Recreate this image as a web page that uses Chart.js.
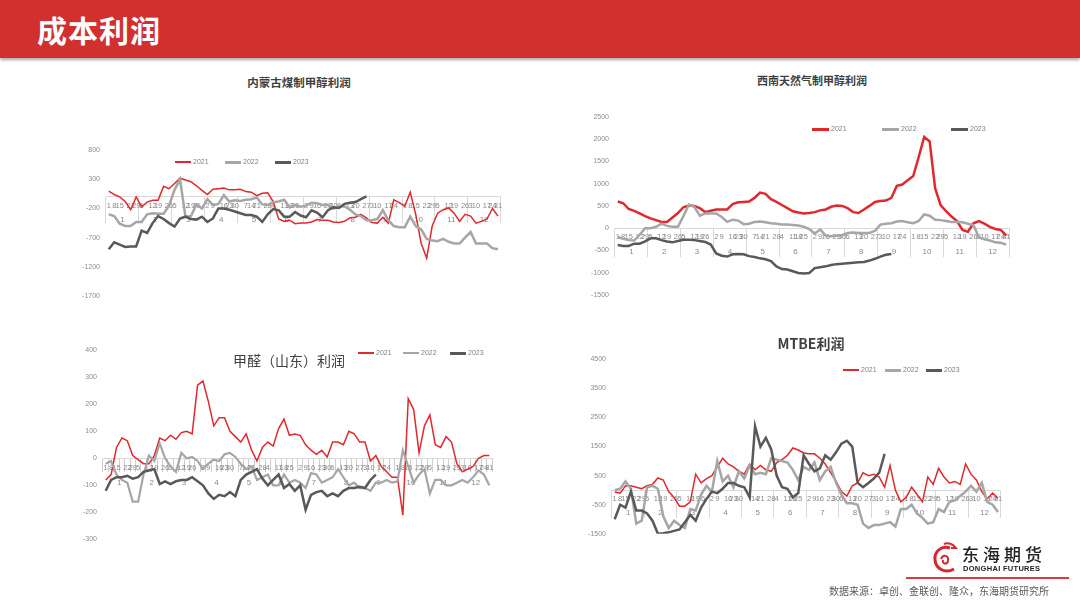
<!DOCTYPE html>
<html><head><meta charset="utf-8">
<script src="https://cdn.jsdelivr.net/npm/chart.js@4.4.0/dist/chart.umd.min.js"></script>
<style>
html,body{margin:0;padding:0;background:#fff;}
body{width:1080px;height:607px;overflow:hidden;position:relative;font-family:"Noto Sans CJK SC","Liberation Sans",sans-serif;}
#hdr{position:absolute;left:0;top:0;width:1080px;height:58px;background:#d22f2f;box-shadow:0 2px 3px rgba(0,0,0,0.35);}
#hdr span{position:absolute;left:37px;top:10px;font-size:30px;font-weight:700;color:#fff;line-height:38px;letter-spacing:1px;}
canvas{position:absolute;}
.ttl{position:absolute;color:#404040;white-space:nowrap;transform:translate(-50%,-50%);line-height:1;z-index:5;}
.lg{position:absolute;font-family:"Liberation Sans",sans-serif;font-size:7px;color:#7f7f7f;white-space:nowrap;line-height:1;z-index:5;}
.lgl{position:absolute;z-index:5;}
#src{position:absolute;left:829px;top:584px;font-size:10px;color:#595959;white-space:nowrap;line-height:14px;}
#rl{position:absolute;left:906px;top:577px;width:163px;height:1.5px;background:#e0393c;}
#lt1{position:absolute;left:962px;top:543px;font-size:17px;color:#222;letter-spacing:4px;line-height:22px;font-weight:500;}
#lt2{position:absolute;left:963px;top:564px;font-family:"Liberation Sans",sans-serif;font-size:7.5px;font-weight:700;color:#222;letter-spacing:0.3px;line-height:9px;}
</style></head>
<body>
<div id="hdr"><span>成本利润</span></div>

<canvas id="c1" width="490" height="170" style="left:30px;top:140px"></canvas>
<canvas id="c2" width="470" height="200" style="left:560px;top:105px"></canvas>
<canvas id="c3" width="470" height="212" style="left:40px;top:338px"></canvas>
<canvas id="c4" width="460" height="197" style="left:560px;top:347px"></canvas>

<div class="ttl" style="left:299px;top:82.5px;font-size:11.5px;font-weight:700;">内蒙古煤制甲醇利润</div>
<div class="ttl" style="left:812px;top:80px;font-size:11px;font-weight:700;">西南天然气制甲醇利润</div>
<div class="ttl" style="left:289px;top:359.5px;font-size:14px;font-weight:400;">甲醛（山东）利润</div>
<div class="ttl" style="left:811px;top:343px;font-size:14px;font-weight:700;">MTBE利润</div>

<div id="legends"></div>

<svg style="position:absolute;left:932px;top:541px" width="28" height="36" viewBox="0 0 28 36">
 <path d="M18 7 C9 4 2 11 3 19 C4 28 13 33 22 28" stroke="#d9262c" stroke-width="3" fill="none"/>
 <path d="M9 18 C11 13 17 14 16 20 C15 24 10 23 11 19" stroke="#d9262c" stroke-width="2" fill="none"/>
 <path d="M12 3 C16 1 21 3 24 7 L19 7" stroke="#d9262c" stroke-width="2" fill="none"/>
</svg>
<div id="lt1">东海期货</div>
<div id="lt2">DONGHAI FUTURES</div>
<div id="rl"></div>
<div id="src">数据来源：卓创、金联创、隆众，东海期货研究所</div>

<script>
// ---------- tick labels ----------
const MONTHS = ['1','2','3','4','5','6','7','8','9','10','11','12'];
const DAYS = [
'1','8','15','','22','29',
'5','','12','19','','26',
'5','','12','19','26','',
'2','9','','16','23','30',
'','7','14','21','','28',
'4','','11','18','25','',
'2','9','16','','23','30',
'6','','13','20','','27',
'3','10','','17','24','',
'1','8','15','','22','29',
'5','','12','19','','26',
'3','10','','17','24','31'];
const SERIES_NAMES = ['2021','2022','2023'];
const COLORS = ['#e0282d','#a6a6a6','#595959'];

// ---------- 内蒙古煤制甲醇利润 ----------
const NM_2021 = [100,40,0,-80,-220,0,-170,-90,-60,-60,
180,140,230,320,290,260,190,110,40,130,
140,150,120,120,130,90,80,20,60,70,
-80,-380,-420,-400,-460,-450,-450,-430,-390,-400,
-400,-430,-440,-420,-360,-350,-300,-360,-440,-450,
-350,-450,-50,-100,-160,80,-300,-800,-1050,-500,
-280,-220,-190,-280,-420,-300,-330,-450,-420,-380,
-200,-330];
const NM_2022 = [-300,-330,-460,-500,-500,-430,-430,-300,-280,-290,
-290,-150,120,300,-340,-330,-130,-200,-40,-140,
-120,30,-80,-60,-70,-50,-40,-10,-130,-140,
-90,-80,-50,-180,-140,-170,-150,-100,-110,-140,
-140,-200,-170,-160,-220,-300,-330,-400,-400,-380,
-230,-400,-500,-520,-520,-340,-500,-560,-720,-750,
-760,-720,-770,-800,-800,-700,-600,-800,-800,-800,
-880,-900];
const NM_2023 = [-900,-780,-820,-860,-850,-850,-580,-620,-450,-330,
-380,-450,-510,-370,-340,-380,-390,-340,-430,-370,
-200,-200,-220,-250,-280,-310,-310,-340,-430,-300,
-210,-230,-340,-340,-260,-320,-350,-230,-270,-350,
-230,-180,-190,-120,-100,-90,-40,10];

// ---------- 西南天然气制甲醇利润 ----------
const XN_2021 = [600,560,430,390,330,270,220,180,140,140,
240,340,470,510,500,450,360,390,420,420,
420,540,580,590,600,680,800,770,650,590,
520,450,380,350,330,340,360,400,420,480,
510,500,450,360,340,420,500,590,610,620,
680,950,980,1080,1170,1600,2050,1950,900,520,
380,260,160,-40,-80,110,160,100,30,-20,
-40,-170];
const XN_2022 = [-200,-240,-270,-280,-150,0,0,30,100,50,
30,30,270,530,480,280,330,330,330,250,
140,190,170,90,100,140,150,130,110,100,
80,80,70,60,30,-20,-120,-30,-170,-180,
-170,-160,-110,-100,-110,-110,-110,-60,80,100,
110,150,160,130,110,160,310,280,190,180,
160,140,140,130,100,70,-210,-250,-280,-320,
-330,-370];
const XN_2023 = [-380,-400,-400,-350,-350,-300,-230,-230,-270,-300,
-320,-290,-260,-260,-270,-290,-310,-370,-570,-620,
-640,-590,-580,-590,-630,-650,-680,-700,-740,-860,
-920,-930,-970,-1010,-1020,-1010,-900,-880,-860,-830,
-810,-800,-790,-780,-770,-760,-730,-690,-640,-600,
-580];

// ---------- 甲醛（山东）利润 ----------
const JQ_2021 = [-80,-60,40,75,65,10,-5,-20,-20,10,
75,65,85,70,95,100,90,270,285,210,
120,150,150,100,80,60,90,30,-10,40,
60,45,110,145,85,90,85,50,30,15,
30,5,60,60,50,100,90,60,60,-10,
10,-30,-50,-70,-70,-210,220,180,20,120,
160,50,40,80,60,-20,-50,-40,-30,0,
10,10];
const JQ_2022 = [-20,-10,-60,-80,-90,-160,-160,-60,10,-10,
55,0,-30,-50,20,0,5,-10,-40,-20,
-5,-10,15,20,5,-20,-40,-30,-80,-70,
-60,-100,-100,-60,-90,-80,-90,-110,-55,-60,
-90,-80,-70,-40,-70,-100,-90,-110,-110,-120,
-90,-90,-80,-90,-85,30,-30,-90,-60,-40,
-130,-80,-80,-100,-100,-90,-80,-90,-70,-45,
-60,-100];
const JQ_2023 = [-120,-80,-70,-70,-65,-75,-70,-50,-45,-40,
-95,-85,-95,-85,-80,-80,-70,-85,-100,-130,
-150,-135,-140,-125,-140,-80,-60,-50,-40,-75,
-100,-80,-60,-110,-95,-120,-100,-190,-135,-125,
-120,-140,-130,-140,-120,-110,-110,-105,-110,-80,
-60];

// ---------- MTBE利润 ----------
const MT_2021 = [-60,-100,150,150,100,50,150,200,420,350,
-50,-250,-550,-550,-400,550,250,400,500,800,
1100,900,800,650,550,900,700,850,700,650,
950,1050,1200,1450,1380,1280,1250,1250,1100,900,
600,300,-50,-200,150,250,600,500,550,450,
100,850,0,-400,-250,100,-150,-400,450,200,
750,450,250,300,200,900,550,350,-50,-300,
-100,-280];
const MT_2022 = [0,50,300,50,-1150,-1050,100,150,50,-900,
-1300,-1050,-1200,-1300,-650,-700,-150,150,-50,1000,
300,500,100,650,400,850,550,600,550,1100,
1050,1000,950,700,350,800,700,950,350,650,
800,250,-150,-450,-450,-500,-1150,-1300,-1200,-1200,
-1150,-1100,-1250,-650,-650,-500,-800,-950,-1150,-1100,
-650,-750,-400,-350,-200,-50,150,-50,250,-400,
-500,-750];
const MT_2023 = [-1000,-500,-600,-50,-700,-700,-800,-1050,-1500,-1480,
-1450,-1400,-1350,-1100,-850,-1050,-600,-300,-50,-100,
50,250,250,150,100,-250,2200,1500,1800,1400,
500,100,50,-250,-100,1200,900,650,750,1200,
1050,1300,1600,1700,1500,250,100,250,400,600,
1250];

Chart.defaults.font.family = '"Liberation Sans", Arial, sans-serif';

function build(id, cfg) {
  const datasets = cfg.series.map((arr, k) => ({
    label: SERIES_NAMES[k], data: arr,
    borderColor: COLORS[k], backgroundColor: COLORS[k],
    borderWidth: cfg.widths[k], pointRadius: 0, tension: 0, fill: false,
    xAxisID: 'x', yAxisID: 'y', order: 2 - k
  }));
  const dense = cfg.dense || 0;
  new Chart(document.getElementById(id), {
    type: 'line',
    data: { labels: DAYS, datasets },
    options: {
      responsive: false, animation: false, events: [],
      layout: { padding: cfg.pad },
      plugins: { legend: { display: false }, title: { display: false }, tooltip: { enabled: false } },
      scales: {
        x: {
          type: 'category', axis: 'x', offset: true, position: { y: 0 },
          grid: { display: true, drawOnChartArea: false, drawTicks: dense > 0, tickLength: dense, color: '#cfcfcf', offset: true },
          border: { display: true, color: '#d9d9d9', width: 1 },
          ticks: { autoSkip: false, maxRotation: 0, minRotation: 0, padding: cfg.dayOff - 4.5 - dense,
                   font: { size: 7.5 }, color: '#8a8a8a' }
        },
        xm: {
          type: 'category', axis: 'x', labels: MONTHS, offset: true, position: { y: 0 },
          grid: { display: true, drawOnChartArea: false, drawTicks: cfg.sep > 0, tickLength: cfg.sep,
                  color: '#d9d9d9', offset: true },
          border: { display: false },
          ticks: { autoSkip: false, maxRotation: 0, minRotation: 0, padding: cfg.monOff - cfg.sep - 4.8,
                   font: { size: 8 }, color: '#8a8a8a' }
        },
        y: {
          min: cfg.min, max: cfg.max,
          ticks: { stepSize: cfg.step, padding: 6, font: { size: 7 }, color: '#8c8c8c',
                   callback: (v) => String(v) },
          grid: { display: false, drawTicks: false },
          border: { display: false },
          afterFit: (s) => { s.width = cfg.yW; }
        }
      }
    }
  });
}

build('c1', { series: [NM_2021, NM_2022, NM_2023], widths: [1.5, 2.5, 2.5],
  min: -1700, max: 800, step: 500, yW: 76, pad: { top: 10, bottom: 14, left: 0, right: 19.3 },
  sep: 26, dayOff: 9, monOff: 23 });
build('c2', { series: [XN_2021, XN_2022, XN_2023], widths: [2.5, 2.5, 2.5],
  min: -1500, max: 2500, step: 500, yW: 55, pad: { top: 12, bottom: 10, left: 0, right: 21 },
  sep: 29, dayOff: 9, monOff: 24 });
build('c3', { series: [JQ_2021, JQ_2022, JQ_2023], widths: [1.5, 2.2, 2.5],
  min: -300, max: 400, step: 100, yW: 63, pad: { top: 12, bottom: 10.5, left: 0, right: 18 },
  sep: 0, dense: 13, dayOff: 10, monOff: 24.5 });
build('c4', { series: [MT_2021, MT_2022, MT_2023], widths: [1.5, 2.5, 2.5],
  min: -1500, max: 4500, step: 1000, yW: 52, pad: { top: 12.3, bottom: 10, left: 0, right: 19.3 },
  sep: 28, dayOff: 9, monOff: 22.5 });

// ---------- legends (HTML) ----------
const LEGEND_POS = [
  { y: 162, xs: [175, 225, 275], len: 16 },
  { y: 129, xs: [812, 882, 951], len: 17 },
  { y: 353, xs: [358, 403, 450], len: 16 },
  { y: 370, xs: [843, 885, 926], len: 16 }
];
const LEGEND_W = [[2, 3, 3], [3, 3, 3], [2, 2, 3], [2, 3, 3]];
const lgRoot = document.getElementById('legends');
LEGEND_POS.forEach((p, ci) => {
  SERIES_NAMES.forEach((name, k) => {
    const w = LEGEND_W[ci][k];
    const ln = document.createElement('div');
    ln.className = 'lgl';
    ln.style.cssText = `left:${p.xs[k]}px;top:${Math.round(p.y - w / 2)}px;width:${p.len}px;height:${w}px;background:${COLORS[k]};`;
    lgRoot.appendChild(ln);
    const t = document.createElement('div');
    t.className = 'lg';
    t.textContent = name;
    t.style.left = (p.xs[k] + p.len + 2) + 'px';
    t.style.top = (p.y - 4) + 'px';
    lgRoot.appendChild(t);
  });
});
</script>
</body></html>
